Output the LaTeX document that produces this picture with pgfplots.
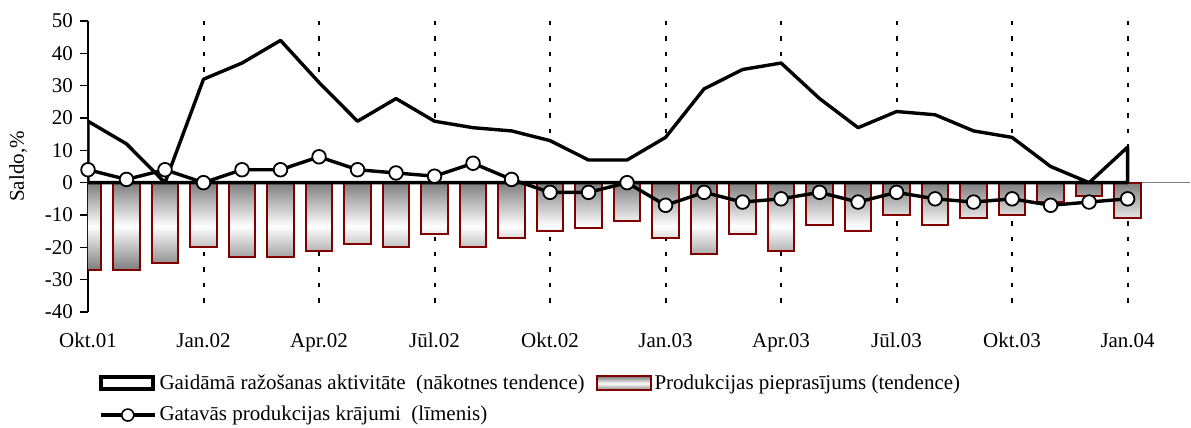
\documentclass[border=0pt]{standalone}
\usepackage{fontspec}
\setmainfont{Liberation Serif}
\usepackage{pgfplots}
\usepackage{pgfplotstable}
\pgfplotsset{compat=1.18}
\definecolor{barred}{RGB}{128,0,0}
\definecolor{bargray}{RGB}{125,125,125}

% month index, expected activity, demand, stocks
\pgfplotstableread{
i act dem inv
0 19 -27 4
1 12 -27 1
2 0 -25 4
3 32 -20 0
4 37 -23 4
5 44 -23 4
6 31 -21 8
7 19 -19 4
8 26 -20 3
9 19 -16 2
10 17 -20 6
11 16 -17 1
12 13 -15 -3
13 7 -14 -3
14 7 -12 0
15 14 -17 -7
16 29 -22 -3
17 35 -16 -6
18 37 -21 -5
19 26 -13 -3
20 17 -15 -6
21 22 -10 -3
22 21 -13 -5
23 16 -11 -6
24 14 -10 -5
25 5 -6 -7
26 0 -4 -6
27 11 -11 -5
}\data

\begin{document}
\begin{tikzpicture}
\begin{axis}[
    scale only axis,
    width=551pt, height=145.5pt,
    xmin=0, xmax=28.62,
    ymin=-40, ymax=50,
    axis lines*=left,
    x axis line style={draw=none},
    y axis line style={black, line width=0.6pt},
    xtick={0,3,...,27},
    xticklabels={Okt.01,Jan.02,Apr.02,Jūl.02,Okt.02,Jan.03,Apr.03,Jūl.03,Okt.03,Jan.04},
    xtick style={draw=none},
    xticklabel style={yshift=-3pt},
    ytick={-40,-30,...,50},
    yticklabels={-40,-30,-20,-10,0,10,20,30,40,50},
    ytick style={black, line width=0.6pt},
    tick align=outside,
    major tick length=4pt,
    tick label style={font=\fontsize{10.5}{12.5}\selectfont},
    extra y ticks={0},
    extra y tick labels={},
    extra y tick style={grid=major, major grid style={gray, line width=0.7pt}, tick style={draw=none}},
    ylabel={Saldo,\%},
    ylabel style={font=\fontsize{10.5}{12.5}\selectfont, yshift=-6pt},
    legend style={draw=none, fill=none, at={(0.004,-0.19)}, anchor=north west,
        legend columns=2, row sep=4pt,
        font=\fontsize{10.5}{12.5}\selectfont,
        /tikz/every even column/.append style={column sep=4pt},
        nodes={inner sep=1.5pt}},
    legend cell align=left,
]
\addlegendimage{legend image code/.code={\draw[black, line width=2pt, fill=white] (0pt,-3pt) rectangle (26pt,3pt);}}
\addlegendentry{Gaidāmā ražošanas aktivitāte\ \ (nākotnes tendence)}
\addlegendimage{legend image code/.code={\draw[barred, line width=1pt, top color=bargray, bottom color=bargray, middle color=white] (0pt,-3.5pt) rectangle (27pt,3.5pt);}}
\addlegendentry{Produkcijas pieprasījums (tendence)}
\addlegendimage{legend image code/.code={\draw[black, line width=1.7pt] (0pt,0pt) -- (27pt,0pt); \draw[black, line width=0.8pt, fill=white] (13.5pt,0pt) circle (3pt);}}
\addlegendentry{Gatavās produkcijas krājumi\ \ (līmenis)}

% dotted quarter markers
\pgfplotsinvokeforeach{3,6,9,12,15,18,21,24,27}{
    \addplot[forget plot, black, line width=1pt, dash pattern=on 2.2pt off 5.5pt] coordinates {(#1,50) (#1,-37.5)};
}

\addplot[forget plot, ybar, bar width=0.69, draw=barred, line width=1pt,
    top color=bargray, bottom color=bargray, middle color=white]
    table[x=i, y=dem] {\data};

\addplot[forget plot, draw=black, line width=1.7pt, line join=round, fill=white]
    table[x=i, y=act] {\data} \closedcycle;

\addplot[forget plot, black, line width=1.7pt, mark=*, mark size=3.4pt,
    mark options={fill=white, line width=0.9pt}]
    table[x=i, y=inv] {\data};

\coordinate (ll) at (rel axis cs:0,0);
\coordinate (ur) at (rel axis cs:1,1);
\end{axis}
\pgfresetboundingbox
\path[use as bounding box] ([xshift=-44pt,yshift=-58pt]ll) rectangle ([xshift=0.5pt,yshift=10.5pt]ur);
\end{tikzpicture}
\end{document}
